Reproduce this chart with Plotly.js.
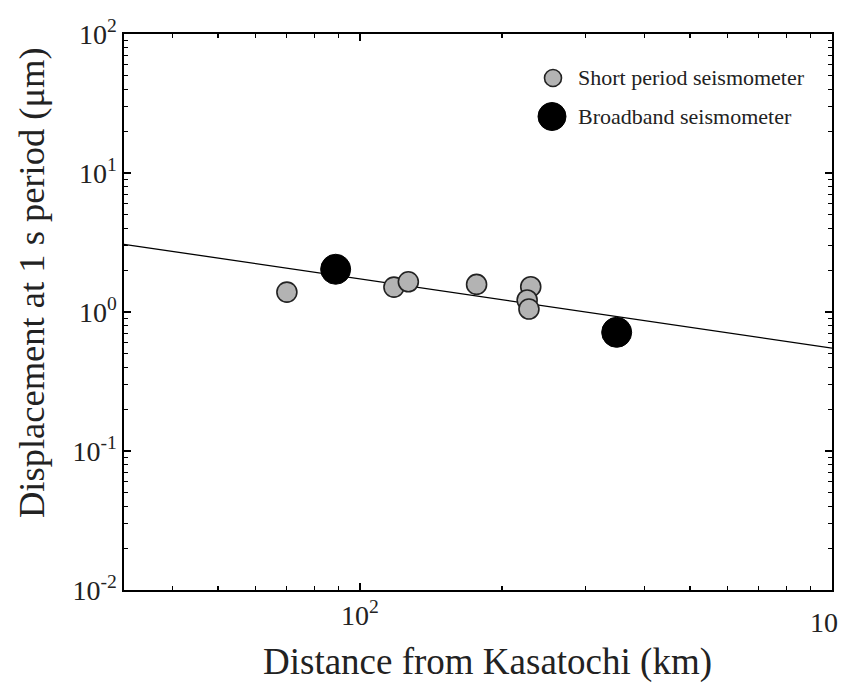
<!DOCTYPE html>
<html>
<head>
<meta charset="utf-8">
<script src="https://cdn.plot.ly/plotly-3.0.1.min.js"></script>
<style>html,body{margin:0;padding:0;background:#fff;}#chart{width:842px;height:685px;}</style>
</head>
<body>
<div id="chart"></div>
<script>
// Short period seismometer stations
const shortPeriodDist = [70, 118, 126.6, 176.6, 230, 226, 228];
const shortPeriodDisp = [1.39, 1.51, 1.65, 1.58, 1.52, 1.22, 1.05];
// Broadband seismometer stations
const broadbandDist = [88.8, 349.8];
const broadbandDisp = [2.03, 0.714];
// Fitted attenuation line (end points at axis edges)
const fitLineX = [31.62, 1000];
const fitLineY = [3.07, 0.55];
// Tick labels
const yTickVals = [0.01, 0.1, 1, 10, 100];
const yTickText = ['10<sup>-2</sup>', '10<sup>-1</sup>', '10<sup>0</sup>', '10<sup>1</sup>', '10<sup>2</sup>'];
const xTickVals = [100];
const xTickText = ['10<sup>2</sup>'];
const xEdgeLabel = '10';
const legendLabels = ['Short period seismometer', 'Broadband seismometer'];

const FONT = 'Liberation Serif, Times New Roman, serif';

function minorVals(lo, hi) {
  const v = [];
  for (let e = lo; e < hi; e++) for (let m = 2; m <= 9; m++) v.push(m * Math.pow(10, e));
  return v;
}

const traces = [
  {x: fitLineX, y: fitLineY, mode: 'lines', line: {color: '#000', width: 1.3}, showlegend: false, hoverinfo: 'skip'},
  {x: shortPeriodDist, y: shortPeriodDisp, mode: 'markers', name: legendLabels[0],
   marker: {size: 20, color: '#b3b3b3', line: {color: '#222', width: 1.6}}, showlegend: false},
  {x: broadbandDist, y: broadbandDisp, mode: 'markers', name: legendLabels[1],
   marker: {size: 30, color: '#000', line: {color: '#000', width: 1}}, showlegend: false}
];

const axisCommon = {
  type: 'log', showgrid: false, zeroline: false, showline: true, linecolor: '#000', linewidth: 1.6,
  mirror: 'allticks', ticks: 'inside', ticklen: 7, tickwidth: 1.4, tickcolor: '#000',
  tickmode: 'array', tickfont: {family: FONT, size: 28, color: '#222'}
};

const layout = {
  width: 842, height: 685,
  margin: {l: 124, r: 10, t: 34, b: 95},
  paper_bgcolor: '#fff', plot_bgcolor: '#fff',
  showlegend: false,
  xaxis: Object.assign({}, axisCommon, {
    range: [1.5, 3], tickvals: xTickVals, ticktext: xTickText,
    minor: {ticks: 'inside', ticklen: 4, tickwidth: 1.2, tickcolor: '#000', tickmode: 'array', tickvals: minorVals(1, 3), showgrid: false}
  }),
  yaxis: Object.assign({}, axisCommon, {
    range: [-2, 2], tickvals: yTickVals, ticktext: yTickText,
    minor: {ticks: 'inside', ticklen: 4, tickwidth: 1.2, tickcolor: '#000', tickmode: 'array', tickvals: minorVals(-2, 2), showgrid: false}
  }),
  shapes: [
    {type: 'circle', xref: 'paper', yref: 'paper', xsizemode: 'pixel', ysizemode: 'pixel',
     xanchor: (553 - 124) / 708, yanchor: (590 - 78) / 556, x0: -8.5, x1: 8.5, y0: -8.5, y1: 8.5,
     fillcolor: '#b3b3b3', line: {color: '#222', width: 1.6}},
    {type: 'circle', xref: 'paper', yref: 'paper', xsizemode: 'pixel', ysizemode: 'pixel',
     xanchor: (552 - 124) / 708, yanchor: (590 - 116.5) / 556, x0: -14, x1: 14, y0: -14, y1: 14,
     fillcolor: '#000', line: {color: '#000', width: 1}}
  ],
  annotations: [
    {text: legendLabels[0], xref: 'paper', yref: 'paper', x: (576 - 124) / 708, y: (590 - 78) / 556,
     xanchor: 'left', yanchor: 'middle', showarrow: false, font: {family: FONT, size: 22, color: '#222'}},
    {text: legendLabels[1], xref: 'paper', yref: 'paper', x: (576 - 124) / 708, y: (590 - 116.5) / 556,
     xanchor: 'left', yanchor: 'middle', showarrow: false, font: {family: FONT, size: 22, color: '#222'}},
    {text: 'Displacement at 1 s period (μm)', xref: 'paper', yref: 'paper', x: (31 - 124) / 708, y: (590 - 283) / 556,
     xanchor: 'center', yanchor: 'middle', textangle: -90, showarrow: false, font: {family: FONT, size: 36.5, color: '#222'}},
    {text: 'Distance from Kasatochi (km)', xref: 'paper', yref: 'paper', x: (487 - 124) / 708, y: (590 - 662) / 556,
     xanchor: 'center', yanchor: 'middle', showarrow: false, font: {family: FONT, size: 37, color: '#222'}},
    {text: xEdgeLabel, xref: 'paper', yref: 'paper', x: (824 - 124) / 708, y: (590 - 622) / 556,
     xanchor: 'center', yanchor: 'middle', showarrow: false, font: {family: FONT, size: 28, color: '#222'}}
  ]
};

Plotly.newPlot('chart', traces, layout, {displayModeBar: false, staticPlot: true});
</script>
</body>
</html>
